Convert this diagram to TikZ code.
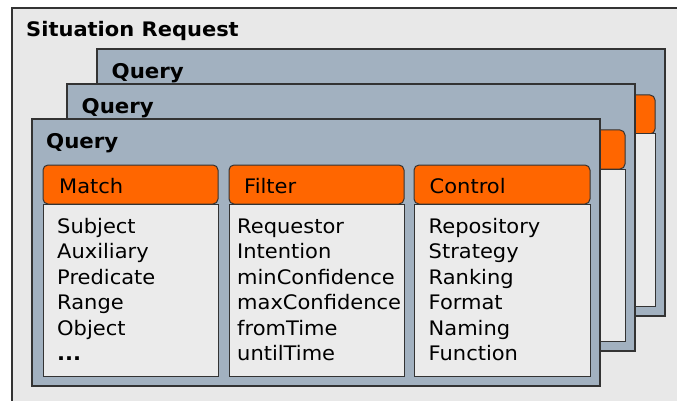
\documentclass[tikz,border=0pt]{standalone}
\usepackage{fontspec}
\setmainfont{DejaVu Sans}[FakeStretch=1.05]
\definecolor{framebg}{HTML}{E8E8E8}
\definecolor{framebd}{HTML}{333333}
\definecolor{qfill}{HTML}{A2B1C0}
\definecolor{orng}{HTML}{FF6600}
\definecolor{bodyfill}{HTML}{EBEBEB}
\tikzset{
  qbox/.style={draw=framebd,line width=1.3pt,fill=qfill,anchor=north west,inner sep=0pt,outer sep=0pt,minimum width=568pt,minimum height=267pt},
  hdr/.style={draw=framebd,line width=1pt,fill=orng,rounded corners=5pt,anchor=north west,inner sep=0pt,outer sep=0pt,minimum height=39pt},
  bodybox/.style={draw=framebd,line width=1pt,fill=bodyfill,anchor=north west,inner sep=0pt,outer sep=0pt,minimum height=172pt},
  qtitle/.style={anchor=base west,inner sep=0pt,font=\fontsize{20.3}{22}\selectfont\bfseries},
  htext/.style={anchor=base west,inner sep=0pt,font=\fontsize{20}{22}\selectfont},
  btext/.style={anchor=base west,inner sep=0pt,font=\fontsize{20}{22}\selectfont},
}
\newcommand\backquery[3]{%
  \begin{scope}[shift={(#2,#3)}]
    \node[qbox] (#1q) at (0,0) {};
    \node[qtitle] (#1t) at (14.5,29.5) {Query};
    \node[hdr,minimum width=176pt] (#1ch) at (382,46) {};
    \node[bodybox,minimum width=176pt] (#1cb) at (382,85) {};
  \end{scope}}
\begin{document}
\begin{tikzpicture}[x=1pt,y=-1pt]
\useasboundingbox (0,0) rectangle (677,401);
\fill[white] (0,0) rectangle (677,401);
\node[fill=framebg,anchor=north west,inner sep=0pt,outer sep=0pt,minimum width=665pt,minimum height=393pt] (sr) at (12,8) {};
\draw[framebd,line width=1.5pt] (sr.north east) -- (sr.north west) -- (sr.south west);
\node[anchor=base west,inner sep=0pt,font=\fontsize{20}{24}\selectfont\bfseries] (srt) at (26,37) {Situation Request};
\backquery{b}{97}{49}
\backquery{m}{67}{84}
\begin{scope}[shift={(32,119)}]
  \node[qbox] (fq) at (0,0) {};
  \node[qtitle] (ft) at (14,29) {Query};
  \node[hdr,minimum width=175pt] (mh) at (11,46) {};
  \node[bodybox,minimum width=175pt] (mb) at (11,85) {};
  \node[hdr,minimum width=175pt] (fh) at (197,46) {};
  \node[bodybox,minimum width=175pt] (fb) at (197,85) {};
  \node[hdr,minimum width=176pt] (ch) at (382,46) {};
  \node[bodybox,minimum width=176pt] (cb) at (382,85) {};
  \node[htext] (mht) at (27,74) {Match};
  \node[htext] (fht) at (212,74) {Filter};
  \node[htext] (cht) at (397.5,74) {Control};
  \foreach \t [count=\i] in {Subject,Auxiliary,Predicate,Range,Object}
    \node[btext] (m\i) at (25,{114+25.5*(\i-1)}) {\t};
  \node[btext] (m6) at (25,{114+25.5*5}) {\textbf{...}};
  \foreach \t [count=\i] in {Requestor,Intention,minConfidence,maxConfidence,fromTime,untilTime}
    \node[btext] (f\i) at (205,{114+25.5*(\i-1)}) {\t};
  \foreach \t [count=\i] in {Repository,Strategy,Ranking,Format,Naming,Function}
    \node[btext] (c\i) at (396.5,{114+25.5*(\i-1)}) {\t};
\end{scope}
\end{tikzpicture}
\end{document}
